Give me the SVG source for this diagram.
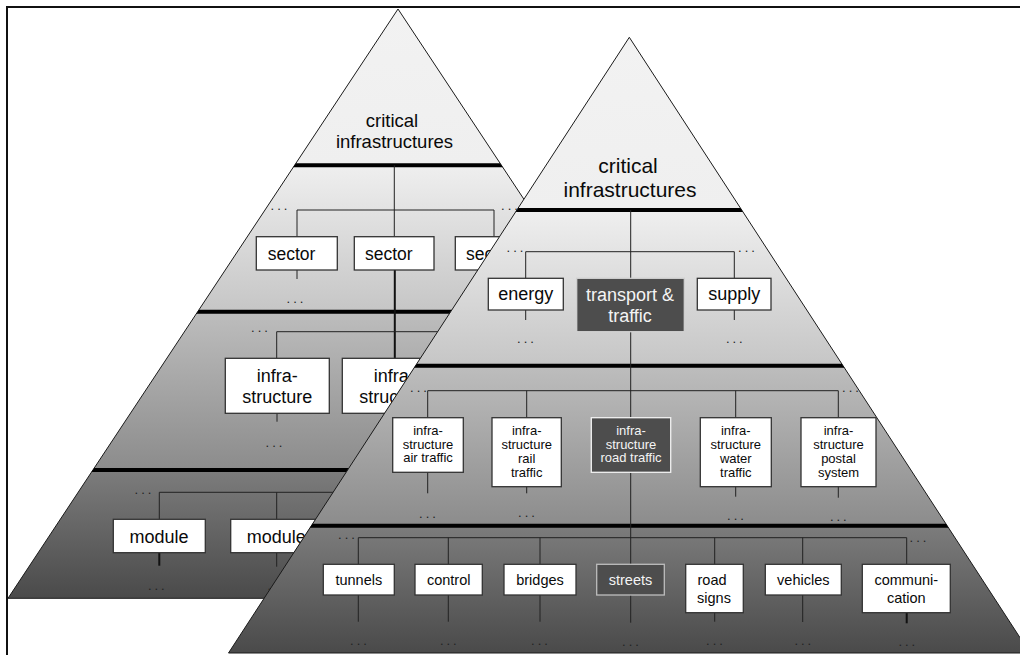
<svg xmlns="http://www.w3.org/2000/svg" width="1020" height="655" viewBox="0 0 1020 655">
  <defs>
    <!-- shading of the back pyramid: flat top band, then darkening bands -->
    <linearGradient id="shadeBack" x1="0" y1="0" x2="0" y2="1">
      <stop offset="0" stop-color="#f2f2f2"/>
      <stop offset="0.265" stop-color="#efefef"/>
      <stop offset="0.512" stop-color="#c6c6c6"/>
      <stop offset="0.515" stop-color="#bdbdbd"/>
      <stop offset="0.780" stop-color="#8c8c8c"/>
      <stop offset="0.783" stop-color="#7c7c7c"/>
      <stop offset="1" stop-color="#4a4a4a"/>
    </linearGradient>
    <linearGradient id="shadeFront" x1="0" y1="0" x2="0" y2="1">
      <stop offset="0" stop-color="#f2f2f2"/>
      <stop offset="0.280" stop-color="#efefef"/>
      <stop offset="0.532" stop-color="#c6c6c6"/>
      <stop offset="0.535" stop-color="#bdbdbd"/>
      <stop offset="0.792" stop-color="#8c8c8c"/>
      <stop offset="0.795" stop-color="#7c7c7c"/>
      <stop offset="1" stop-color="#4a4a4a"/>
    </linearGradient>
    <clipPath id="clipBack">
      <polygon points="398,9 8,598.3 788,598.3"/>
    </clipPath>
    <clipPath id="clipFront">
      <polygon points="629.3,37.3 228.5,653 1030,653"/>
    </clipPath>
    <!-- everything except the front pyramid: back labels partly hidden by it -->
    <clipPath id="behindFront">
      <path clip-rule="evenodd" d="M0 0 H1020 V655 H0 Z M629.3 37.3 L228.5 653 L1030 653 Z"/>
    </clipPath>
  </defs>
  <style>
    .pyr { stroke: #1a1a1a; stroke-width: 1; }
    .bar { stroke: #000; stroke-width: 4; }
    .edge { stroke: #222; stroke-width: 1; fill: none; }
    .edge2 { stroke: #111; stroke-width: 2; fill: none; }
    .box { fill: #fff; stroke: #333; stroke-width: 1.3; }
    .dbox { fill: #4d4d4d; stroke: #d0d0d0; stroke-width: 1.3; }
    text { font-family: "Liberation Sans", Arial, sans-serif; fill: #0a0a0a; }
    .title-b { font-size: 18.5px; text-anchor: middle; }
    .title-f { font-size: 21px; text-anchor: middle; }
    .lb { font-size: 18px; text-anchor: middle; }
    .ls { font-size: 13px; text-anchor: middle; }
    .lm { font-size: 14.5px; text-anchor: middle; }
    .inv { fill: #f4f4f4; }
    .dots { font-size: 13px; letter-spacing: 3px; text-anchor: middle; fill: #222; }
  </style>

  <rect width="1020" height="655" fill="#fff"/>
  <!-- outer frame -->
  <rect x="7" y="7" width="1200" height="800" fill="none" stroke="#111" stroke-width="2"/>

  <!-- ================= back pyramid ================= -->
  <g id="back-pyramid">
    <polygon class="pyr" points="398,9 8,598.3 788,598.3" fill="url(#shadeBack)"/>
    <g clip-path="url(#clipBack)">
      <line class="bar" x1="0" y1="165.3" x2="800" y2="165.3"/>
      <line class="bar" x1="0" y1="311.7" x2="800" y2="311.7"/>
      <line class="bar" x1="0" y1="470" x2="800" y2="470"/>
    </g>
    <g id="back-title">
      <text class="title-b" x="392" y="127">critical</text>
      <text class="title-b" x="394.5" y="148">infrastructures</text>
    </g>

    <g id="back-connectors">
      <path class="edge" d="M394.3 165.3 V236.7"/>
      <path class="edge" d="M297 236.7 V210 H494 V236.7"/>
      <path class="edge2" d="M394.8 270 V358.3"/>
      <path class="edge" d="M297 270 V279"/>
      <path class="edge" d="M276.7 358.3 V331.7 H620"/>
      <path class="edge" d="M277 413.3 V421.7"/>
      <path class="edge" d="M159.3 519.3 V492.3 H620"/>
      <path class="edge" d="M276.7 492.3 V519.3"/>
      <path class="edge2" d="M159.3 552.7 V565.7"/>
      <path class="edge" d="M276.7 552.7 V566.7"/>
    </g>

    <g id="back-dots">
      <text class="dots" x="280.5" y="210">...</text>
      <text class="dots" x="511" y="210" clip-path="url(#behindFront)">...</text>
      <text class="dots" x="296.5" y="303">...</text>
      <text class="dots" x="261" y="331.5">...</text>
      <text class="dots" x="275.5" y="446.5">...</text>
      <text class="dots" x="144.5" y="494">...</text>
      <text class="dots" x="157.8" y="590">...</text>
      <text class="dots" x="277.5" y="590" clip-path="url(#behindFront)">...</text>
    </g>

    <g id="back-sector-1">
      <rect class="box" x="256.3" y="236.7" width="81" height="33.3"/>
      <text class="lb" x="291.5" y="260" style="font-size:17.5px">sector</text>
    </g>
    <g id="back-sector-2">
      <rect class="box" x="354.3" y="236.7" width="79.7" height="33.3"/>
      <text class="lb" x="388.8" y="260" style="font-size:17.5px">sector</text>
    </g>
    <!-- third sector box runs under the front pyramid; only its left part shows -->
    <g id="back-sector-3" clip-path="url(#behindFront)">
      <rect class="box" x="455.3" y="236.7" width="81" height="33.3"/>
      <text x="466" y="260" style="font-size:17.5px">sec</text>
    </g>
    <g id="back-infra-1">
      <rect class="box" x="225.3" y="358.3" width="104" height="55"/>
      <text class="lb" x="277.3" y="381.7">infra-</text>
      <text class="lb" x="277.3" y="402.7">structure</text>
    </g>
    <g id="back-infra-2" clip-path="url(#behindFront)">
      <rect class="box" x="342.3" y="358.3" width="104" height="55"/>
      <text x="373.8" y="381.7" style="font-size:18px">infra</text>
      <text x="359.3" y="402.7" style="font-size:18px">struc</text>
    </g>
    <g id="back-module-1">
      <rect class="box" x="113.3" y="519.3" width="92" height="33.4"/>
      <text class="lb" x="159" y="542.7">module</text>
    </g>
    <g id="back-module-2" clip-path="url(#behindFront)">
      <rect class="box" x="230.7" y="519.3" width="92" height="33.4"/>
      <text class="lb" x="276.3" y="542.7">module</text>
    </g>
  </g>

  <!-- ================= front pyramid ================= -->
  <g id="front-pyramid">
    <polygon class="pyr" points="629.3,37.3 228.5,653 1030,653" fill="url(#shadeFront)"/>
    <g clip-path="url(#clipFront)">
      <line class="bar" x1="200" y1="210" x2="1030" y2="210"/>
      <line class="bar" x1="200" y1="365.7" x2="1030" y2="365.7"/>
      <line class="bar" x1="200" y1="525.7" x2="1030" y2="525.7"/>
    </g>
    <g id="front-title">
      <text class="title-f" x="628" y="172.7">critical</text>
      <text class="title-f" x="630" y="197">infrastructures</text>
    </g>

    <g id="front-connectors">
      <path class="edge" d="M630.7 210 V622.7"/>
      <path class="edge" d="M525.7 278.3 V251.7 H734.3 V278.3"/>
      <path class="edge" d="M525.7 310 V320 M734.3 310 V320"/>
      <path class="edge" d="M427.7 417.7 V390.7 H838.3 V417.7 M526.7 390.7 V417.7 M735.7 390.7 V417.7"/>
      <path class="edge" d="M427.7 472.3 V493.3 M526.7 486.7 V493.3 M735.7 486.7 V496.7 M838.3 486.7 V497.7"/>
      <path class="edge" d="M358.3 564.3 V537.7 H906.7 V564.3 M448.3 537.7 V564.3 M540 537.7 V564.3 M714.7 537.7 V564.3 M802.7 537.7 V564.3"/>
      <path class="edge" d="M358.3 595 V621.7 M448.3 595 V621.7 M540 595 V621.7 M714.7 612.7 V621.7 M802.7 595 V622"/>
      <path class="edge2" d="M906.7 612.7 V623.3"/>
    </g>

    <g id="front-dots">
      <text class="dots" x="516.5" y="251.5">...</text>
      <text class="dots" x="748" y="251.5">...</text>
      <text class="dots" x="527" y="343">...</text>
      <text class="dots" x="735.8" y="343">...</text>
      <text class="dots" x="420" y="391.5">...</text>
      <text class="dots" x="852" y="392">...</text>
      <text class="dots" x="429" y="517.5">...</text>
      <text class="dots" x="528" y="517">...</text>
      <text class="dots" x="737" y="520">...</text>
      <text class="dots" x="839.8" y="521">...</text>
      <text class="dots" x="348" y="539">...</text>
      <text class="dots" x="919.5" y="541.5">...</text>
      <text class="dots" x="360" y="645">...</text>
      <text class="dots" x="449.8" y="645">...</text>
      <text class="dots" x="541" y="645">...</text>
      <text class="dots" x="632" y="645.5">...</text>
      <text class="dots" x="716" y="645">...</text>
      <text class="dots" x="804.3" y="645">...</text>
      <text class="dots" x="908.3" y="645.5">...</text>
    </g>

    <!-- sectors -->
    <g id="energy">
      <rect class="box" x="488.3" y="278.3" width="75" height="31.7"/>
      <text class="lb" x="525.8" y="300.3">energy</text>
    </g>
    <g id="transport-traffic">
      <rect class="dbox" x="576.7" y="278.3" width="107.6" height="53.4"/>
      <text class="lb inv" x="630" y="300.5">transport &amp;</text>
      <text class="lb inv" x="630" y="321.7">traffic</text>
    </g>
    <g id="supply">
      <rect class="box" x="697.3" y="278.3" width="73.7" height="31.7"/>
      <text class="lb" x="734.2" y="300.3">supply</text>
    </g>

    <!-- infrastructures -->
    <g id="infra-air">
      <rect class="box" x="392.7" y="417.7" width="70.6" height="54.6"/>
      <text class="ls" x="428" y="435">infra-</text>
      <text class="ls" x="428" y="448.5">structure</text>
      <text class="ls" x="428" y="462.3">air traffic</text>
    </g>
    <g id="infra-rail">
      <rect class="box" x="492" y="417.7" width="69.3" height="69"/>
      <text class="ls" x="526.7" y="435">infra-</text>
      <text class="ls" x="526.7" y="448.5">structure</text>
      <text class="ls" x="526.7" y="463">rail</text>
      <text class="ls" x="526.7" y="476.5">traffic</text>
    </g>
    <g id="infra-road">
      <rect class="dbox" x="591.3" y="417.7" width="79.4" height="54.6" style="stroke:#f2f2f2"/>
      <text class="ls inv" x="631" y="435">infra-</text>
      <text class="ls inv" x="631" y="448.5">structure</text>
      <text class="ls inv" x="631" y="462.3">road traffic</text>
    </g>
    <g id="infra-water">
      <rect class="box" x="700.3" y="417.7" width="71" height="69"/>
      <text class="ls" x="735.8" y="435">infra-</text>
      <text class="ls" x="735.8" y="448.5">structure</text>
      <text class="ls" x="735.8" y="463">water</text>
      <text class="ls" x="735.8" y="476.5">traffic</text>
    </g>
    <g id="infra-postal">
      <rect class="box" x="801" y="417.7" width="75" height="69"/>
      <text class="ls" x="838.5" y="435">infra-</text>
      <text class="ls" x="838.5" y="448.5">structure</text>
      <text class="ls" x="838.5" y="463">postal</text>
      <text class="ls" x="838.5" y="476.5">system</text>
    </g>

    <!-- modules -->
    <g id="tunnels">
      <rect class="box" x="323.3" y="564.3" width="71" height="30.7"/>
      <text class="lm" x="358.8" y="585">tunnels</text>
    </g>
    <g id="control">
      <rect class="box" x="415" y="564.3" width="67.3" height="30.7"/>
      <text class="lm" x="448.7" y="585">control</text>
    </g>
    <g id="bridges">
      <rect class="box" x="504" y="564.3" width="72" height="30.7"/>
      <text class="lm" x="540" y="585">bridges</text>
    </g>
    <g id="streets">
      <rect class="dbox" x="596.7" y="564.3" width="67.6" height="30.7" style="stroke:#bdbdbd"/>
      <text class="lm inv" x="630.5" y="585">streets</text>
    </g>
    <g id="road-signs">
      <rect class="box" x="685.7" y="564.3" width="57.6" height="48.4"/>
      <text class="lm" x="712" y="585">road</text>
      <text class="lm" x="714" y="603">signs</text>
    </g>
    <g id="vehicles">
      <rect class="box" x="765.3" y="564.3" width="76" height="30.7"/>
      <text class="lm" x="803.3" y="585">vehicles</text>
    </g>
    <g id="communication">
      <rect class="box" x="862.3" y="564.3" width="88" height="48.4"/>
      <text class="lm" x="906.3" y="585">communi-</text>
      <text class="lm" x="906.3" y="603">cation</text>
    </g>
  </g>
</svg>
